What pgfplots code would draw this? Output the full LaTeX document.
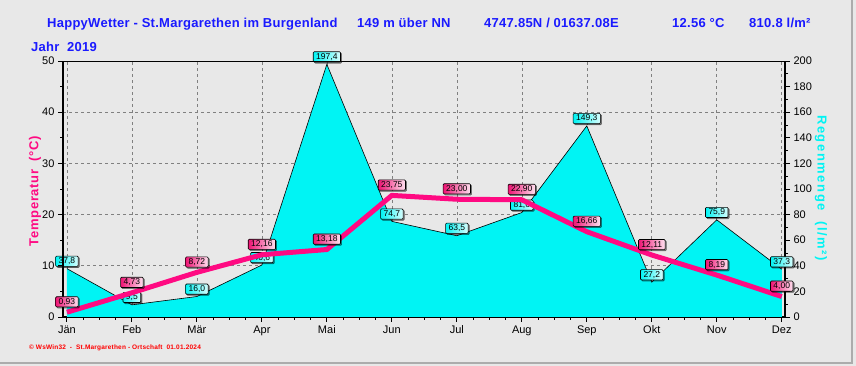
\documentclass[border=0pt]{standalone}
\usepackage{pgfplots}
\pgfplotsset{compat=1.18}
\usepackage{pgfplotstable}
\usepackage{fontspec}
\setmainfont{Liberation Sans}
\usetikzlibrary{shadows}
\definecolor{bgc}{HTML}{E8E8E8}
\definecolor{rain}{HTML}{00F4F4}
\definecolor{temp}{HTML}{FF0A82}
\definecolor{ttl}{HTML}{1A1AFF}
\definecolor{tlab}{HTML}{EE1474}
\definecolor{gridc}{HTML}{808080}

\pgfplotstableread{
x y lab
0 37.8 37,8
1 9.5 9,5
2 16.0 16,0
3 40.6 40,6
4 197.4 197,4
5 74.7 74,7
6 63.5 63,5
7 81.6 81,6
8 149.3 149,3
9 27.2 27,2
10 75.9 75,9
11 37.3 37,3
}\rain

\pgfplotstableread{
x y lab
0 0.93 0,93
1 4.73 4,73
2 8.72 8,72
3 12.16 12,16
4 13.18 13,18
5 23.75 23,75
6 23.00 23,00
7 22.90 22,90
8 16.66 16,66
9 12.11 12,11
10 8.19 8,19
11 4.00 4,00
}\temps

\tikzset{
  lbl/.style={anchor=south,
    font=\fontsize{8.5}{9}\selectfont, text=black,
    draw=black, line width=0.6pt, rounded corners=1pt,
    inner xsep=3pt, inner ysep=1.6pt,
    drop shadow={shadow xshift=1.2pt, shadow yshift=-1.2pt, opacity=0.45, fill=black}}
}
\pgfplotsset{
  common/.style={
    at={(0,0)}, anchor=south west, scale only axis,
    width=722pt, height=256pt,
    xmin=-0.06, xmax=11.05,
    /pgf/number format/assume math mode=true,
    tick label style={font=\fontsize{11}{13}\selectfont, black},
    tick align=outside,
    major tick length=5pt, minor tick length=3pt,
    tick style={black, line width=0.8pt},
  }
}

\begin{document}
\begin{tikzpicture}
\fill[bgc] (-63pt,-49pt) rectangle (793pt,317pt);
\useasboundingbox (-63pt,-49pt) rectangle (793pt,317pt);
\draw[gray!65, line width=1.2pt] (-63pt,-46pt) -- (789pt,-46pt) -- (789pt,317pt);

% grid
\begin{axis}[common, ymin=0, ymax=50,
  xtick={0,...,11}, ytick={10,20,30,40},
  xticklabels={}, yticklabels={},
  major tick length=0pt,
  axis line style={draw=none},
  grid=major, grid style={gridc, dashed, line width=0.6pt}]
\end{axis}

% rain
\begin{axis}[common, ymin=0, ymax=200,
  axis y line*=right, axis x line*=bottom,
  axis line style={line width=1.6pt, black},
  xtick={0,...,11},
  xticklabels={Jän,Feb,Mär,Apr,Mai,Jun,Jul,Aug,Sep,Okt,Nov,Dez},
  minor x tick num=3,
  ytick={0,20,...,200}, minor y tick num=1,
  clip=false]
\addplot[fill=rain, draw=none] table[x=x,y=y] {\rain} \closedcycle;
\addplot[black, line width=0.6pt, no marks,
  nodes near coords, point meta=explicit symbolic,
  every node near coord/.style={lbl, yshift=2pt,
    left color=rain, right color=rain!15!white}]
  table[x=x,y=y,meta=lab] {\rain};
\end{axis}

% temperature
\begin{axis}[common, ymin=0, ymax=50,
  axis y line*=left, axis x line=none,
  axis line style={line width=1.6pt, black},
  ytick={0,10,...,50}, minor y tick num=1,
  clip=false]
\addplot[temp, line width=5pt, no marks,
  nodes near coords, point meta=explicit symbolic,
  every node near coord/.style={lbl, yshift=5pt,
    left color=tlab, right color=temp!12!white}]
  table[x=x,y=y,meta=lab] {\temps};
\draw[black, line width=0.7pt] (rel axis cs:0,1) -- (rel axis cs:1,1);
\end{axis}

% texts
\begin{scope}[every node/.style={inner sep=0pt, text=ttl, font=\fontsize{13}{15}\selectfont\bfseries\addfontfeature{LetterSpace=2}}]
\node[anchor=base west] at (-16pt,289pt) {HappyWetter - St.Margarethen im Burgenland};
\node[anchor=base west] at (294pt,289pt) {149 m über NN};
\node[anchor=base west] at (421pt,289pt) {4747.85N / 01637.08E};
\node[anchor=base west] at (609pt,289pt) {12.56 °C};
\node[anchor=base west] at (686pt,289pt) {810.8 l/m²};
\node[anchor=base west] at (-32pt,265pt) {Jahr\ \ 2019};
\end{scope}
\node[rotate=90, text=temp, inner sep=0pt,
  font=\fontsize{13}{15}\selectfont\bfseries\addfontfeature{LetterSpace=5}] at (-28pt,126pt) {Temperatur\ \ (°C)};
\node[rotate=-90, text=rain, inner sep=0pt,
  font=\fontsize{13}{15}\selectfont\bfseries\addfontfeature{LetterSpace=12}] at (758pt,129pt) {Regenmenge\ \ (l/m²)};
\node[anchor=base west, text=red, inner sep=0pt,
  font=\fontsize{6.5}{8}\selectfont\bfseries\addfontfeature{LetterSpace=3}] at (-34pt,-33pt) {© WsWin32\ \ -\ \ St.Margarethen - Ortschaft\ \ 01.01.2024};
\end{tikzpicture}
\end{document}
